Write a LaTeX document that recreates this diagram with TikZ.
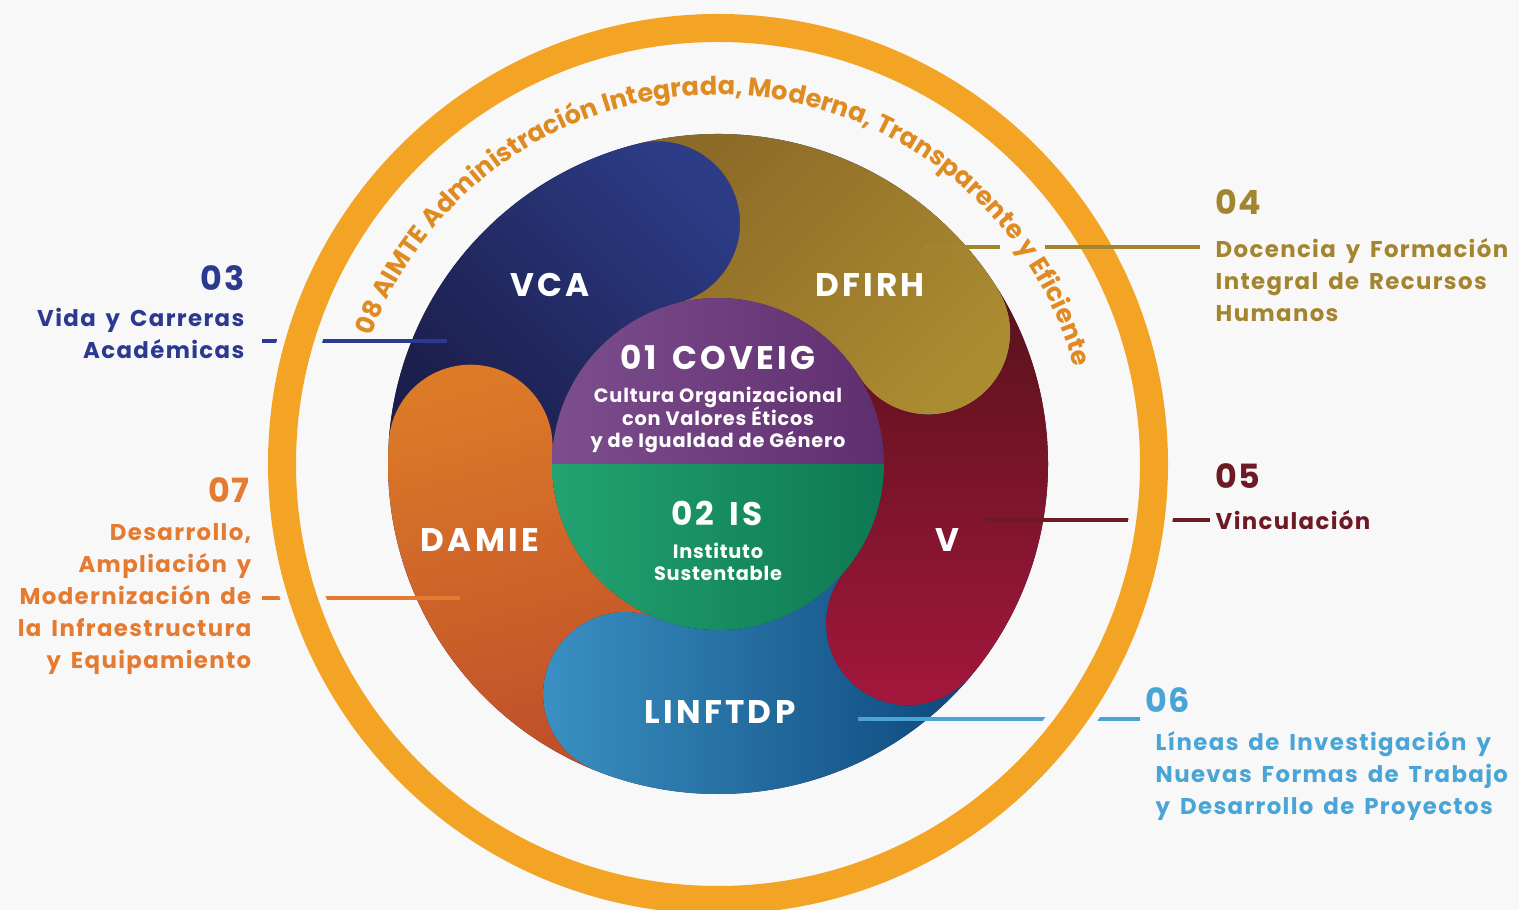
\documentclass[tikz,border=0pt]{standalone}
\usepackage{fontspec}
\setmainfont{Poppins}
\setsansfont{Poppins}
\newfontfamily\lblfont{Poppins}[LetterSpace=6, WordSpace=1.6]
\newfontfamily\numfont{Poppins}[LetterSpace=4]
\newfontfamily\petalfont{Poppins}[LetterSpace=10, WordSpace=1.5]
\newfontfamily\corefont{Poppins}[LetterSpace=4]
\newfontfamily\arcfont{Poppins}
\usetikzlibrary{positioning, calc, decorations.text}
\lineskiplimit=-10pt

\definecolor{bgc}{HTML}{F8F8F9}
\definecolor{navyD}{HTML}{1C1E4B}
\definecolor{navyL}{HTML}{2C3C86}
\definecolor{goldD}{HTML}{8C6A27}
\definecolor{goldL}{HTML}{AC8C31}
\definecolor{maroonD}{HTML}{58121A}
\definecolor{maroonL}{HTML}{A5173E}
\definecolor{blueL}{HTML}{3B92C4}
\definecolor{blueD}{HTML}{0D477B}
\definecolor{orangeL}{HTML}{DD7A28}
\definecolor{orangeD}{HTML}{C04F2A}
\definecolor{purpleL}{HTML}{7D4E8E}
\definecolor{purpleD}{HTML}{5F2E6F}
\definecolor{greenL}{HTML}{22A371}
\definecolor{greenD}{HTML}{0E7853}
\definecolor{ringorange}{HTML}{F4A424}
\definecolor{arcorange}{HTML}{E08B22}
\definecolor{lblnavy}{HTML}{2B3990}
\definecolor{lblgold}{HTML}{A4852F}
\definecolor{lblmaroon}{HTML}{6D1A24}
\definecolor{lblblue}{HTML}{4AA5D7}
\definecolor{lblorange}{HTML}{E57A31}

% one petal of the swirl: sector from #1 to #1+72 with a round head at #1
\newcommand{\petal}[2]{%
  \shade[#2] ($(C)+(#1:3.3)$)
    arc[start angle=#1, end angle=#1+72, radius=3.3]
    arc[start angle=#1+72, end angle=#1-108, radius=0.82]
    arc[start angle=#1+72, end angle=#1, radius=1.66]
    arc[start angle=#1+180, end angle=#1+360, radius=0.82] -- cycle;}

\begin{document}
\begin{tikzpicture}[
        font=\sffamily,
        % Styles
        ring/.style={draw=ringorange, line width=0.28cm},
        ringgap/.style={draw=bgc, line width=0.44cm},
        leader/.style={line width=0.9pt},
        petallbl/.style={text=white, font=\petalfont\bfseries\fontsize{9.3}{11}\selectfont},
        coretxt/.style={text=white, align=center, font=\corefont\bfseries\fontsize{5.5}{6.3}\selectfont},
        numlbl/.style={font=\numfont\bfseries\fontsize{9.5}{11}\selectfont, inner sep=0pt},
        bodylbl/.style={font=\lblfont\bfseries\fontsize{6.5}{9.1}\selectfont, inner sep=0pt},
    ]

    \useasboundingbox (0,0) rectangle (15.19,9.10);
    \fill[bgc] (0,0) rectangle (15.19,9.10);
    \coordinate (C) at (7.18,4.46);

    % === SWIRL (five petals) ===
    \fill[navyD] (C) circle[radius=3.3];
    \petal{104}{top color=navyL, bottom color=navyD, shading angle=-45}
    \petal{32}{top color=goldD, bottom color=goldL, shading angle=45}
    \petal{-40}{top color=maroonD, bottom color=maroonL}
    \petal{-112}{left color=blueL, right color=blueD}
    \petal{176}{top color=orangeL, bottom color=orangeD, shading angle=15}

    % === CORE ===
    \shade[left color=purpleL, right color=purpleD] ($(C)+(1.66,0)$)
        arc[start angle=0, end angle=180, radius=1.66] -- cycle;
    \shade[left color=greenL, right color=greenD] ($(C)+(-1.66,0)$)
        arc[start angle=180, end angle=360, radius=1.66] -- cycle;

    \node[petallbl] (vca) at (5.50,6.25) {VCA};
    \node[petallbl] (dfirh) at (8.70,6.25) {DFIRH};
    \node[petallbl] (damie) at (4.80,3.70) {DAMIE};
    \node[petallbl] (v) at (9.47,3.70) {V};
    \node[petallbl] (linftdp) at (7.20,1.98) {LINFTDP};
    \node[petallbl] (coveig) at (7.18,5.53) {01 COVEIG};
    \node[coretxt] (coveigtxt) at (7.18,4.90) {Cultura Organizacional\\con Valores Éticos\\y de Igualdad de Género};
    \node[petallbl] (is) at (7.17,3.97) {02 IS};
    \node[coretxt] (istxt) at (7.18,3.48) {Instituto\\Sustentable};

    % === LEADER LINES (cut by the ring) ===
    \coordinate (vca-in) at (4.47,5.69);
    \coordinate (vca-out) at (2.62,5.69);
    \coordinate (v-in) at (9.85,3.90);
    \coordinate (v-out) at (12.10,3.90);
    \coordinate (linftdp-in) at (8.58,1.91);
    \coordinate (linftdp-out) at (11.40,1.91);
    \coordinate (damie-in) at (4.60,3.12);
    \coordinate (damie-out) at (2.62,3.12);
    \draw[leader, lblnavy] (vca-in) -- (vca-out);
    \draw[leader, lblmaroon] (v-in) -- (v-out);
    \draw[leader, lblblue] (linftdp-in) -- (linftdp-out);
    \draw[leader, lblorange] (damie-in) -- (damie-out);

    % === OUTER RING ===
    \draw[ringgap] (C) circle[radius=4.36];
    \draw[ring] (C) circle[radius=4.36];

    % DFIRH leader runs over the ring, broken at the letter y
    \coordinate (dfirh-in) at (9.25,6.63);
    \coordinate (dfirh-a) at (10.00,6.63);
    \coordinate (dfirh-b) at (10.45,6.63);
    \coordinate (dfirh-out) at (12.00,6.63);
    \draw[leader, lblgold] (dfirh-in) -- (dfirh-a);
    \draw[leader, lblgold] (dfirh-b) -- (dfirh-out);

    % === 08 along the ring ===
    \path[decorate, decoration={text along path, text align=center, text color=arcorange,
            text={|\arcfont\bfseries\fontsize{7.3}{8}\selectfont|08 AIMTE Administración Integrada, Moderna, Transparente y Eficiente}}]
        ($(C)+(175:3.69)$) arc[start angle=175, end angle=0, radius=3.69];

    % === OUTER LABELS ===
    \node[numlbl, text=lblnavy, anchor=east] (n03) at (2.45,6.32) {03};
    \node[bodylbl, text=lblnavy, align=right, anchor=east] (b03) at (2.45,5.77) {Vida y Carreras\\Académicas};

    \node[numlbl, text=lblgold, anchor=west] (n04) at (12.15,7.08) {04};
    \node[bodylbl, text=lblgold, align=left, anchor=west] (b04) at (12.15,6.30) {Docencia y Formación\\Integral de Recursos\\Humanos};

    \node[numlbl, text=lblmaroon, anchor=west] (n05) at (12.15,4.34) {05};
    \node[bodylbl, text=lblmaroon, anchor=west] (b05) at (12.15,3.90) {Vinculación};

    \node[numlbl, text=lblblue, anchor=west] (n06) at (11.45,2.10) {06};
    \node[bodylbl, text=lblblue, align=left, anchor=west] (b06) at (11.55,1.34) {Líneas de Investigación y\\Nuevas Formas de Trabajo\\y Desarrollo de Proyectos};

    \node[numlbl, text=lblorange, anchor=east] (n07) at (2.50,4.20) {07};
    \node[bodylbl, text=lblorange, align=right, anchor=east] (b07) at (2.52,3.11) {Desarrollo,\\Ampliación y\\Modernización de\\la Infraestructura\\y Equipamiento};

\end{tikzpicture}
\end{document}
